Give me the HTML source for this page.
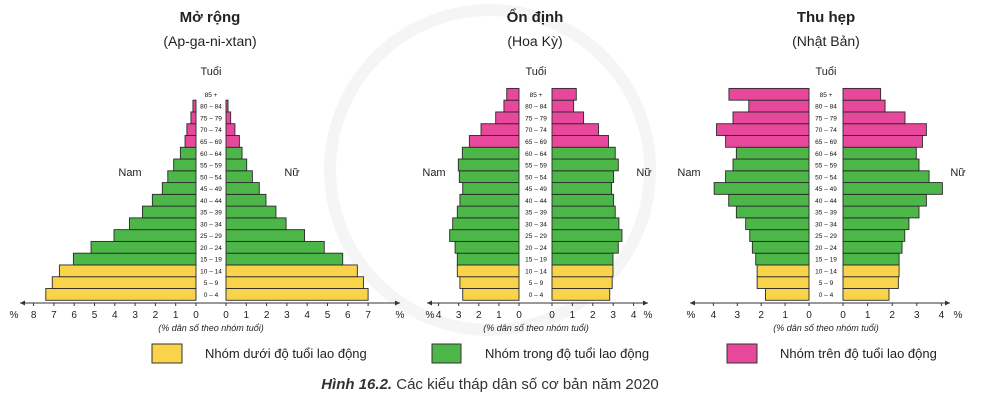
<!DOCTYPE html>
<html><head><meta charset="utf-8"><style>
body{margin:0;background:#fff;width:983px;height:406px;overflow:hidden;font-family:"Liberation Sans",sans-serif}
svg text{font-family:"Liberation Sans",sans-serif}
</style></head><body>
<svg id="s" width="983" height="406" xmlns="http://www.w3.org/2000/svg">
<g fill="none" stroke="#f5f5f5" stroke-width="12">
<circle cx="490" cy="170" r="160"/>
</g>
<g font-size="15" font-weight="bold" text-anchor="middle" fill="#222">
<text x="210" y="22">Mở rộng</text><text x="535" y="22">Ổn định</text><text x="826" y="22">Thu hẹp</text>
</g>
<g font-size="14" text-anchor="middle" fill="#222">
<text x="210" y="46">(Ap-ga-ni-xtan)</text><text x="535" y="46">(Hoa Kỳ)</text><text x="826" y="46">(Nhật Bản)</text>
</g>
<g font-size="11" text-anchor="middle" fill="#222">
<text x="211" y="75">Tuổi</text><text x="536" y="75">Tuổi</text><text x="826" y="75">Tuổi</text>
<text x="130" y="176">Nam</text><text x="292" y="176">Nữ</text>
<text x="434" y="176">Nam</text><text x="644" y="176">Nữ</text>
<text x="689" y="176">Nam</text><text x="958" y="176">Nữ</text>
</g>
<g id="c"></g>
<g font-size="9" font-style="italic" text-anchor="middle" fill="#222">
<text x="211" y="331">(% dân số theo nhóm tuổi)</text>
<text x="536" y="331">(% dân số theo nhóm tuổi)</text>
<text x="826" y="331">(% dân số theo nhóm tuổi)</text>
</g>
<rect x="152" y="344" width="30" height="19" fill="#f9d349" stroke="#333"/>
<rect x="432" y="344" width="29" height="19" fill="#4cb648" stroke="#333"/>
<rect x="727" y="344" width="30" height="19" fill="#e8489b" stroke="#333"/>
<g font-size="13" fill="#222">
<text x="205" y="358">Nhóm dưới độ tuổi lao động</text>
<text x="485" y="358">Nhóm trong độ tuổi lao động</text>
<text x="780" y="358">Nhóm trên độ tuổi lao động</text>
</g>
<text x="490" y="389" font-size="15" text-anchor="middle" fill="#333"><tspan font-weight="bold" font-style="italic">Hình 16.2.</tspan> Các kiểu tháp dân số cơ bản năm 2020</text>
</svg>
<script>
var ages=["0 – 4","5 – 9","10 – 14","15 – 19","20 – 24","25 – 29","30 – 34","35 – 39","40 – 44","45 – 49","50 – 54","55 – 59","60 – 64","65 – 69","70 – 74","75 – 79","80 – 84","85 +"];
var charts=[
{zl:196,zr:226,sl:20.3,sr:20.3,mid:211,maxL:8,maxR:7,ax0:20,ax1:400,pl:14,pr:400,
m:[7.4,7.08,6.73,6.04,5.17,4.04,3.28,2.64,2.15,1.66,1.39,1.1,0.77,0.54,0.45,0.25,0.15,0],
f:[7.0,6.77,6.47,5.75,4.84,3.87,2.96,2.46,1.97,1.64,1.3,1.02,0.79,0.66,0.44,0.23,0.1,0]},
{zl:519,zr:552,sl:20.1,sr:20.4,mid:536,maxL:4,maxR:4,ax0:427,ax1:648,pl:430,pr:648,
m:[2.8,2.94,3.07,3.07,3.18,3.45,3.3,3.07,2.94,2.8,2.97,3.02,2.82,2.47,1.89,1.16,0.75,0.61],
f:[2.83,2.95,2.99,2.99,3.25,3.43,3.28,3.1,3.02,2.92,3.02,3.25,3.1,2.77,2.28,1.55,1.06,1.19]},
{zl:809,zr:843,sl:23.9,sr:24.6,mid:826,maxL:4,maxR:4,ax0:690,ax1:950,pl:691,pr:958,
m:[1.82,2.17,2.17,2.23,2.37,2.48,2.65,3.04,3.36,3.97,3.49,3.18,3.04,3.49,3.87,3.18,2.52,3.35],
f:[1.87,2.25,2.28,2.28,2.4,2.51,2.68,3.09,3.39,4.04,3.5,3.09,2.98,3.23,3.39,2.52,1.71,1.53]}];
var h='';
function col(i){return i<3?'#f9d349':(i<13?'#4cb648':'#e8489b');}
charts.forEach(function(c){
 for(var i=0;i<18;i++){
  var y=288.5-i*11.77;
  var wl=c.m[i]*c.sl, wr=c.f[i]*c.sr;
  if(wl>0)h+='<rect x="'+(c.zl-wl)+'" y="'+y+'" width="'+wl+'" height="11.77" fill="'+col(i)+'" stroke="#2a2a2a" stroke-width="0.9"/>';
  if(wr>0)h+='<rect x="'+c.zr+'" y="'+y+'" width="'+wr+'" height="11.77" fill="'+col(i)+'" stroke="#2a2a2a" stroke-width="0.9"/>';
  h+='<text x="'+c.mid+'" y="'+(y+8.5)+'" font-size="6.5" text-anchor="middle" fill="#111">'+ages[i]+'</text>';
 }
 h+='<line x1="'+c.ax0+'" y1="303" x2="'+c.ax1+'" y2="303" stroke="#333" stroke-width="1"/>';
 h+='<path d="M'+c.ax0+' 303 l5 -2.5 v5z M'+c.ax1+' 303 l-5 -2.5 v5z" fill="#333"/>';
 for(var k=0;k<=c.maxL;k++){var x=c.zl-k*c.sl;h+='<line x1="'+x+'" y1="303" x2="'+x+'" y2="306" stroke="#333"/><text x="'+x+'" y="318" font-size="10" text-anchor="middle" fill="#222">'+k+'</text>';}
 for(var k=0;k<=c.maxR;k++){var x=c.zr+k*c.sr;h+='<line x1="'+x+'" y1="303" x2="'+x+'" y2="306" stroke="#333"/><text x="'+x+'" y="318" font-size="10" text-anchor="middle" fill="#222">'+k+'</text>';}
 h+='<text x="'+c.pl+'" y="318" font-size="10" text-anchor="middle" fill="#222">%</text>';
 h+='<text x="'+c.pr+'" y="318" font-size="10" text-anchor="middle" fill="#222">%</text>';
});
document.getElementById('c').innerHTML=h;
</script>
</body></html>
